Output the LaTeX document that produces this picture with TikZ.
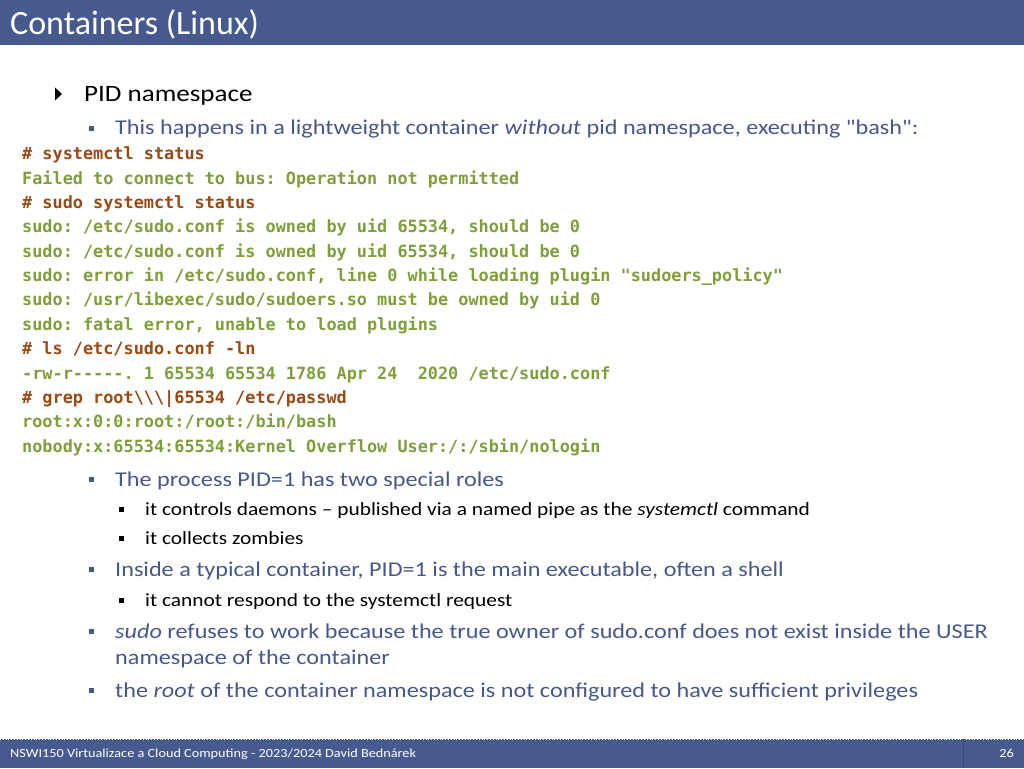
\documentclass[tikz,border=0pt]{standalone}
\usepackage{fontspec}
\setmainfont{Carlito}[FakeStretch=1.15, Ligatures=TeXOff]
\newfontfamily\titlefont{Carlito}
\newfontfamily\codefont{DejaVu Sans Mono}
\frenchspacing
\definecolor{barblue}{HTML}{465A8F}
\definecolor{sepblue}{HTML}{34467A}
\definecolor{txtblue}{HTML}{46588C}
\definecolor{cmdbrown}{HTML}{9A4A14}
\definecolor{outgreen}{HTML}{7F9E3C}
\tikzset{
  lvA/.style={anchor=base west, inner sep=0pt, font=\fontsize{23.5}{28}\selectfont, text=black},
  lvB/.style={anchor=base west, inner sep=0pt, font=\fontsize{21.05}{25}\selectfont, text=txtblue},
  lvC/.style={anchor=base west, inner sep=0pt, font=\fontsize{18.6}{23}\selectfont, text=black},
  cmdline/.style={anchor=base west, inner sep=0pt, font=\codefont\bfseries\fontsize{16.85}{20}\selectfont\frenchspacing, text=cmdbrown},
  outline/.style={anchor=base west, inner sep=0pt, font=\codefont\bfseries\fontsize{16.85}{20}\selectfont\frenchspacing, text=outgreen},
  bulB/.style={fill=txtblue, draw=none},
  bulC/.style={fill=black, draw=none},
}
\begin{document}
\begin{tikzpicture}[x=1pt,y=-1pt]
\useasboundingbox (0,0) rectangle (1024,768);
\fill[white] (0,0) rectangle (1024,768);
% header
\fill[barblue] (0,0) rectangle (1024,45);
\draw[white, dotted, line width=0.8pt] (0,45) -- (1024,45);
\node[anchor=base west, inner sep=0pt, text=white, font=\titlefont\fontsize{34}{40}\selectfont] (title) at (10,35) {Containers (Linux)};
% footer
\fill[barblue] (0,739) rectangle (1024,768);
\draw[white, dotted, line width=0.8pt] (0,739) -- (1024,739);
\draw[sepblue, line width=1pt] (963,739) -- (963,768);
\node[anchor=base west, inner sep=0pt, text=white, font=\fontsize{12.4}{14}\selectfont] (foot) at (10,757.5) {NSWI150 Virtualizace a Cloud Computing - 2023/2024 David Bednárek};
\node[anchor=base east, inner sep=0pt, text=white, font=\fontsize{12.4}{14}\selectfont] (page) at (1014,757.5) {26};
% level 1
\fill[black] (55,87.5) -- (62,94) -- (55,100.5) -- cycle;
\node[lvA] (pid) at (84,101) {PID namespace};
% level 2
\fill[bulB] (89,126) rectangle (94,131);
\node[lvB] (happ) at (115,134) {This happens in a lightweight container \textit{without} pid namespace, executing "bash":};
% code
\node[cmdline] (c1) at (22,159.5) {\# systemctl status};
\node[outline] (c2) at (22,184) {Failed to connect to bus: Operation not permitted};
\node[cmdline] (c3) at (22,208) {\# sudo systemctl status};
\node[outline] (c4) at (22,232.5) {sudo: /etc/sudo.conf is owned by uid 65534, should be 0};
\node[outline] (c5) at (22,257) {sudo: /etc/sudo.conf is owned by uid 65534, should be 0};
\node[outline] (c6) at (22,281) {sudo: error in /etc/sudo.conf, line 0 while loading plugin "sudoers\_policy"};
\node[outline] (c7) at (22,305.5) {sudo: /usr/libexec/sudo/sudoers.so must be owned by uid 0};
\node[outline] (c8) at (22,330) {sudo: fatal error, unable to load plugins};
\node[cmdline] (c9) at (22,354.5) {\# ls /etc/sudo.conf -{}ln};
\node[outline] (c10) at (22,379) {-{}rw-{}r-{}-{}-{}-{}-{}. 1 65534 65534 1786 Apr 24\ \ 2020 /etc/sudo.conf};
\node[cmdline] (c11) at (22,403) {\# grep root\textbackslash\textbackslash\textbackslash|65534 /etc/passwd};
\node[outline] (c12) at (22,427.5) {root:x:0:0:root:/root:/bin/bash};
\node[outline] (c13) at (22,452) {nobody:x:65534:65534:Kernel Overflow User:/:/sbin/nologin};
% bullets
\fill[bulB] (89,477) rectangle (94,482);
\node[lvB] (roles) at (115,486) {The process PID=1 has two special roles};
\fill[bulC] (119,507) rectangle (124,512);
\node[lvC] (daem) at (145,515) {it controls daemons – published via a named pipe as the \textit{systemctl} command};
\fill[bulC] (119,536) rectangle (124,541);
\node[lvC] (zomb) at (145,544) {it collects zombies};
\fill[bulB] (89,567) rectangle (94,572);
\node[lvB] (insd) at (115,576) {Inside a typical container, PID=1 is the main executable, often a shell};
\fill[bulC] (119,598) rectangle (124,603);
\node[lvC] (resp) at (145,606) {it cannot respond to the systemctl request};
\fill[bulB] (89,629) rectangle (94,634);
\node[lvB] (sudo) at (115,638) {\textit{sudo} refuses to work because the true owner of sudo.conf does not exist inside the USER};
\node[lvB] (sudo2) at (115,664) {namespace of the container};
\fill[bulB] (89,688) rectangle (94,693);
\node[lvB] (root) at (115,697) {the \textit{root} of the container namespace is not configured to have sufficient privileges};
\end{tikzpicture}
\end{document}
